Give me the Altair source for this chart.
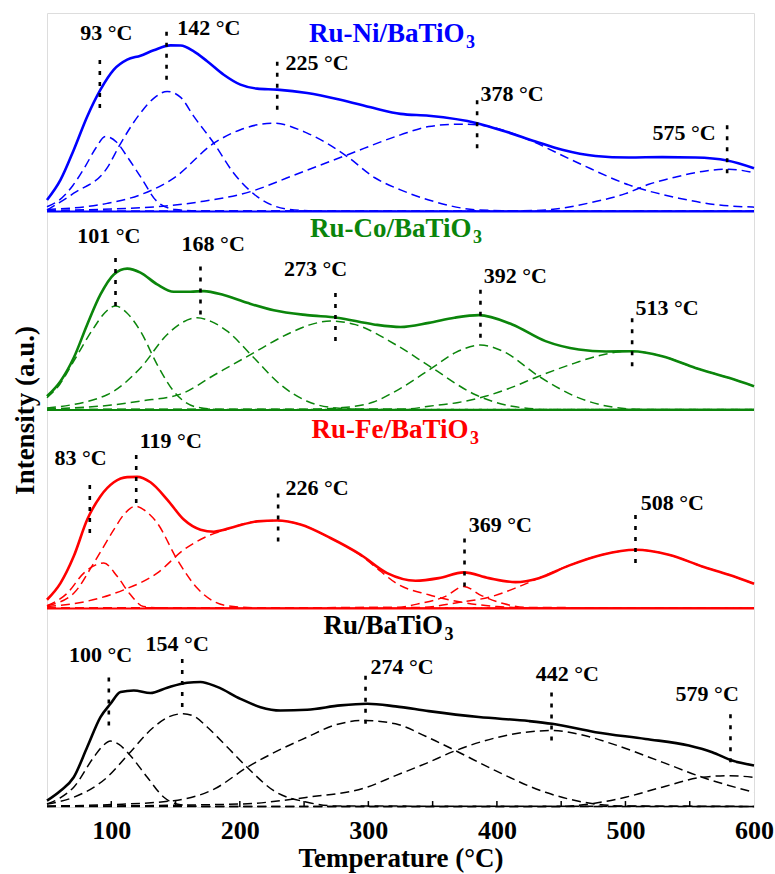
import altair as alt
import pandas as pd

FONT = "Liberation Serif"
PANELS = ["Ru-Ni", "Ru-Co", "Ru-Fe", "Ru"]
COLORS = ["#0000ff", "#0b850b", "#ff0000", "#000000"]
OFFSETS = {"Ru-Ni": 300, "Ru-Co": 200, "Ru-Fe": 100, "Ru": 0}

# ---------------- Ru-Ni/BaTiO3 (temperature °C, intensity a.u.) ----------------
NI_SOLID = [(50, 5.8), (60.5, 15.9), (70.8, 31), (81.3, 47.9), (91.6, 61.4), (102, 71.5),
            (112.4, 76.5), (122.7, 78.5), (133, 81.2), (146, 83.7), (153.9, 83.6), (164.2, 80.7),
            (174.6, 75.7), (187.5, 68.9), (200.5, 63.9), (213.5, 61.9), (229, 61.4), (252.4, 59.7),
            (278.3, 56.3), (304.2, 52.1), (325, 49.2), (347, 48.2), (384.6, 44.5), (406.7, 40.3),
            (430, 35.3), (450.8, 31.1), (476.7, 28), (502.6, 27.2), (528.6, 27.4), (554.5, 27.2),
            (579.1, 25.7), (600, 21.8)]
NI_C1 = [(50, 2.4), (60, 6), (70, 13), (80, 23), (88, 32), (95.5, 37.8), (104, 35), (113, 27),
         (122.7, 17.6), (135.7, 5), (150, 1), (170, 0.3), (600, 0.3)]
NI_C2 = [(50, 0.7), (70.8, 9.2), (96.8, 22), (107, 34), (122.7, 49.6), (133, 57), (143.5, 60.5),
         (154, 57.5), (164.2, 47.9), (179.8, 34.4), (195.3, 19.3), (213.5, 7.5), (239, 1),
         (260, 0.3), (600, 0.3)]
NI_C3 = [(50, 1), (96.8, 4.1), (125, 9), (148.6, 16.8), (179.8, 34.4), (200.5, 41.2),
         (226.4, 44.5), (252.4, 39.5), (283.5, 27.7), (305, 17), (325, 10.9), (347, 5.8),
         (385.7, 0.8), (420, 0.3), (600, 0.3)]
NI_C4 = [(50, 0.5), (135.7, 2.4), (170, 5), (208.3, 10), (239.4, 17.6), (283.5, 28.5),
         (325, 38.6), (347, 42.8), (370, 44), (384.6, 43.7), (405, 41), (424.8, 36.1),
         (463.7, 24.3), (502.6, 13.4), (541.5, 6.7), (570, 3.5), (600, 2.2)]
NI_C5 = [(50, 0.3), (400, 0.3), (430, 0.5), (476.7, 5), (500, 9), (518.2, 13.7), (540, 17.5),
         (560, 20.2), (580.4, 21.3), (600, 19.5)]

# ---------------- Ru-Co/BaTiO3 ----------------
CO_SOLID = [(50, 6.9), (60.5, 14.5), (70.8, 26.3), (81.3, 43.1), (91.6, 58.2), (102, 68.3),
            (112.4, 71.2), (122.7, 69.2), (135.7, 63.3), (148.6, 59.6), (161.6, 59.6), (172, 59.9),
            (187.5, 57.9), (205.7, 54), (226.4, 50.2), (252.4, 47.8), (275.7, 46.5), (304.2, 43.1),
            (325, 41.8), (347, 43.9), (367, 46.5), (385.9, 47.8), (411.9, 43.1), (437.8, 34.7),
            (463.7, 30.5), (485, 29.5), (505.2, 29.6), (528.6, 27.1), (554.5, 21.2), (580.4, 16.2),
            (600, 12)]
CO_C1 = [(50, 6.2), (60, 13), (70.8, 24.6), (86.4, 41.4), (95, 49), (103.3, 52.4), (112, 49),
         (122.7, 39.7), (135.7, 22.9), (148.6, 9.4), (166.8, 1.4), (185, 0.3), (600, 0.3)]
CO_C2 = [(50, 1), (96.8, 7.7), (122.7, 21.2), (143.5, 38), (155, 44), (166.8, 46.5), (178, 44.5),
         (190.2, 39.7), (210.9, 26.3), (231.6, 12.8), (252.4, 4.4), (275, 1), (300, 0.3), (600, 0.3)]
CO_C3 = [(50, 0.5), (100, 2.5), (122.7, 4.5), (153.9, 8), (179.8, 17.5), (208.3, 27.9),
         (239.4, 38.9), (255, 43), (270.5, 44.8), (290, 43), (321, 33), (349.6, 21.2),
         (383.3, 7.7), (411.9, 1.9), (440, 0.3), (600, 0.3)]
CO_C4 = [(50, 0.3), (250, 0.3), (280, 1.2), (304, 4), (321, 9.4), (349.6, 21.2), (368, 29),
         (387.2, 32.7), (405, 29.5), (432.6, 17), (463.7, 6.1), (490, 1.5), (515, 0.3), (600, 0.3)]
CO_C5 = [(50, 0.3), (330, 0.5), (347, 1.9), (370, 3.8), (391.1, 6.9), (410, 11), (432.6, 17),
         (460, 23.5), (480, 27.5), (502.6, 29.6), (528.6, 27.1), (554.5, 21.2), (580.4, 16.2),
         (600, 12)]

# ---------------- Ru-Fe/BaTiO3 ----------------
FE_SOLID = [(50, 4.4), (60.5, 12.8), (70.8, 26.3), (81.3, 44.8), (91.6, 56.6), (102, 63.6),
            (112.4, 66.2), (120.2, 66.3), (130.5, 63.6), (143.5, 54.9), (156.4, 44.8), (169.4, 39.7),
            (179.8, 38.7), (195.3, 41.1), (213.5, 43.9), (229.1, 44.3), (247.2, 42.3), (270.5, 35.5),
            (293.9, 27.1), (314.6, 17.8), (336.7, 14), (354.8, 15.3), (374.2, 18.2), (393.7, 15.3),
            (414.5, 13.3), (432.6, 15.3), (455.9, 21.6), (481.9, 27.1), (507.8, 29.6), (533.7, 27.1),
            (559.7, 21.2), (580.4, 17), (600, 12.5)]
FE_C1 = [(50, 1.4), (65.7, 7.7), (78.6, 17.8), (88, 22), (94.2, 22.9), (104.6, 16.2), (115, 6.9),
         (125, 1), (140, 0.3), (600, 0.3)]
FE_C2 = [(50, 1.4), (70.8, 7.7), (86.4, 22.9), (102, 39.7), (110, 47.5), (118.8, 51.5), (127, 49),
         (135.7, 43.1), (151.3, 24.6), (166.8, 10.3), (180, 3.5), (195, 1), (220, 0.3), (600, 0.3)]
FE_C3 = [(50, 1), (80, 3.5), (109.7, 9.4), (135.7, 17.8), (156.4, 29.6), (174.6, 36.4),
         (190.2, 39.9), (195.3, 41.1), (213.5, 43.9), (229.1, 44.3), (247.2, 42.3), (270.5, 35.5),
         (293.9, 26.8), (310, 18.5), (321, 13), (347, 6.9), (374, 3), (400, 1), (430, 0.3), (600, 0.3)]
FE_C4 = [(50, 0.3), (320, 0.5), (340, 2.5), (360, 6.1), (374.2, 11.1), (388, 6.5), (405, 2.5),
         (425, 0.5), (600, 0.3)]
FE_C5 = [(50, 0.3), (340, 0.5), (370, 3), (396.3, 6.1), (414.5, 10.3), (432.6, 15.3), (455.9, 21.6),
         (481.9, 27.1), (507.8, 29.6), (533.7, 27.1), (559.7, 21.2), (580.4, 17), (600, 12.5)]

# ---------------- Ru/BaTiO3 ----------------
RU_SOLID = [(50, 3.2), (60.5, 8.2), (70.8, 15), (81.3, 30.2), (91.6, 45.3), (99.4, 52), (107.2, 57.9),
            (117.5, 58.7), (130.5, 57.4), (143.5, 60.1), (159, 62.6), (169.4, 63), (182.4, 60.5),
            (200.5, 54.5), (216.1, 50.3), (231.6, 48.6), (252.4, 49), (278.3, 51.2), (299.1, 52),
            (321.1, 50.7), (347, 48.3), (385.9, 45.3), (424.8, 43.3), (443, 41.9), (476.7, 37.7),
            (515.6, 34.3), (549.3, 31), (567.5, 27.6), (583, 23.4), (600, 20.9)]
RU_C1 = [(50, 1.5), (60, 4.5), (70.8, 10), (86.4, 25.1), (93, 30.5), (99.4, 33.2), (106, 31.5),
         (113.6, 26.8), (128, 15), (140.9, 4.9), (155, 1), (170, 0.3), (600, 0.3)]
RU_C2 = [(50, 1.5), (70.8, 4.9), (96.8, 15), (113.6, 26.8), (133.1, 40.3), (145, 45.5), (155.9, 47),
         (165, 45.5), (174.6, 40.3), (190.2, 30.2), (205.7, 20), (226.4, 8.2), (252.4, 2.4),
         (275, 0.5), (600, 0.3)]
RU_C3 = [(50, 0.5), (100, 1.2), (148.6, 3.2), (180, 9), (205.7, 20), (230, 28.5), (252.4, 35.2),
         (273.1, 41.1), (296.5, 43.6), (321.1, 41.9), (345, 35.5), (367.8, 28.4), (398.9, 18.3),
         (437.8, 7.4), (476.7, 1.5), (500, 0.5), (600, 0.3)]
RU_C4 = [(50, 0.3), (200, 1.5), (252.4, 4.9), (299, 10), (321.1, 15.8), (345, 22), (367.8, 28.4),
         (400, 35), (420, 37.5), (443, 38.5), (465, 36.5), (489.7, 31.8), (528.6, 22.6),
         (559.7, 15), (600, 7.4)]
RU_C5 = [(50, 0.3), (450, 0.3), (475, 1.8), (500, 4.9), (528.6, 10), (559.7, 15), (580.4, 15.8),
         (600, 14.9)]

# ---------------- peak markers: (panel, T, bottom, top) ----------------
MARKERS = [
    ("Ru-Ni", 91.1, 52.1, 78.2), ("Ru-Ni", 143, 66.4, 93.3), ("Ru-Ni", 229.1, 51.3, 77.4),
    ("Ru-Ni", 384.6, 31.9, 58.8), ("Ru-Ni", 579.1, 19.3, 44.5),
    ("Ru-Co", 103.3, 52.4, 78.4), ("Ru-Co", 169.4, 48.1, 74.2), ("Ru-Co", 274.4, 34.7, 61.6),
    ("Ru-Co", 387.2, 36.4, 63.3), ("Ru-Co", 505.2, 22.1, 48.1),
    ("Ru-Fe", 83.3, 38, 64.1), ("Ru-Fe", 119.4, 53.2, 80.2), ("Ru-Fe", 229.8, 33.8, 60.8),
    ("Ru-Fe", 374.8, 11.1, 37.2), ("Ru-Fe", 507.8, 22.9, 49),
    ("Ru", 98.1, 41.1, 67.2), ("Ru", 155.2, 50.4, 76.4), ("Ru", 297.8, 41.9, 67.2),
    ("Ru", 442.5, 33.5, 58.7), ("Ru", 581.7, 22.6, 48.6),
]
# ---------------- peak labels: (panel, text, T, I, align) ----------------
LABELS = [
    ("Ru-Ni", "93 °C", 96.1, 90, "center"), ("Ru-Ni", "142 °C", 151.3, 92.5, "left"),
    ("Ru-Ni", "225 °C", 235.5, 74.8, "left"), ("Ru-Ni", "378 °C", 387.2, 59.3, "left"),
    ("Ru-Ni", "575 °C", 570.1, 39.5, "right"),
    ("Ru-Co", "101 °C", 98.1, 87.7, "center"), ("Ru-Co", "168 °C", 179.3, 83.5, "center"),
    ("Ru-Co", "273 °C", 258.9, 70.9, "center"), ("Ru-Co", "392 °C", 389.8, 67.5, "left"),
    ("Ru-Co", "513 °C", 507.8, 51.5, "left"),
    ("Ru-Fe", "83 °C", 76.1, 75.9, "center"), ("Ru-Fe", "119 °C", 122.2, 84.3, "left"),
    ("Ru-Fe", "226 °C", 235.5, 60.8, "left"), ("Ru-Fe", "369 °C", 378.1, 42.3, "left"),
    ("Ru-Fe", "508 °C", 511.9, 53.2, "left"),
    ("Ru", "100 °C", 91.6, 76.4, "center"), ("Ru", "154 °C", 151.3, 82.3, "center"),
    ("Ru", "274 °C", 301.6, 70.6, "left"), ("Ru", "442 °C", 454.7, 67.2, "center"),
    ("Ru", "579 °C", 563.6, 57.1, "center"),
]
# ---------------- panel titles: (panel, text, T_end, baseline I, subscript I) ----------------
TITLES = [
    ("Ru-Ni", "Ru-Ni/BaTiO", 374.8, 85.5, 82.5),
    ("Ru-Co", "Ru-Co/BaTiO", 380.2, 87.0, 84.0),
    ("Ru-Fe", "Ru-Fe/BaTiO", 377.9, 85.8, 82.8),
    ("Ru", "Ru/BaTiO", 358.1, 87.2, 84.2),
]
X_TICKS = [100, 150, 200, 250, 300, 350, 400, 450, 500, 550]
X_LABELS = [100, 200, 300, 400, 500, 600]

CURVES = [
    ("Ru-Ni", "solid", NI_SOLID), ("Ru-Ni", "c1", NI_C1), ("Ru-Ni", "c2", NI_C2),
    ("Ru-Ni", "c3", NI_C3), ("Ru-Ni", "c4", NI_C4), ("Ru-Ni", "c5", NI_C5),
    ("Ru-Co", "solid", CO_SOLID), ("Ru-Co", "c1", CO_C1), ("Ru-Co", "c2", CO_C2),
    ("Ru-Co", "c3", CO_C3), ("Ru-Co", "c4", CO_C4), ("Ru-Co", "c5", CO_C5),
    ("Ru-Fe", "solid", FE_SOLID), ("Ru-Fe", "c1", FE_C1), ("Ru-Fe", "c2", FE_C2),
    ("Ru-Fe", "c3", FE_C3), ("Ru-Fe", "c4", FE_C4), ("Ru-Fe", "c5", FE_C5),
    ("Ru", "solid", RU_SOLID), ("Ru", "c1", RU_C1), ("Ru", "c2", RU_C2),
    ("Ru", "c3", RU_C3), ("Ru", "c4", RU_C4), ("Ru", "c5", RU_C5),
]

rows = []
for panel, name, pts in CURVES:
    for t, v in pts:
        rows.append({"panel": panel, "curve": panel + "-" + name,
                     "kind": "solid" if name == "solid" else "dash",
                     "T": t, "I": v + OFFSETS[panel]})
curves_df = pd.DataFrame(rows)

markers_df = pd.DataFrame([{"panel": p, "T": t, "I": a + OFFSETS[p], "I2": b + OFFSETS[p]}
                           for p, t, a, b in MARKERS])
labels_df = pd.DataFrame([{"panel": p, "text": s, "T": t, "I": v + OFFSETS[p], "align": al}
                          for p, s, t, v, al in LABELS])
titles_df = pd.DataFrame([{"panel": p, "text": s, "T": t, "I": v + OFFSETS[p],
                           "Isub": w + OFFSETS[p], "sub": "3"} for p, s, t, v, w in TITLES])
ticks_df = pd.DataFrame({"T": X_TICKS, "I": [0] * len(X_TICKS), "I2": [3] * len(X_TICKS)})
bounds_df = pd.DataFrame({"panel": ["Ru-Fe", "Ru-Co", "Ru-Ni"], "I": [100, 200, 300]})

color = alt.Color("panel:N", scale=alt.Scale(domain=PANELS, range=COLORS), legend=None)
x_enc = alt.X("T:Q", scale=alt.Scale(domain=[50, 600], nice=False, zero=False),
              axis=alt.Axis(values=X_LABELS, title="Temperature (°C)", format="d",
                            labelFontSize=26, labelFontWeight="bold", labelFont=FONT,
                            labelFlush=False, labelColor="black", labelPadding=10,
                            ticks=False, domain=False, grid=False,
                            titleFont=FONT, titleFontSize=27, titleFontWeight="bold",
                            titleColor="black", titlePadding=2))
y_enc = alt.Y("I:Q", scale=alt.Scale(domain=[0, 400], nice=False, zero=False),
              axis=alt.Axis(title="Intensity (a.u.)", labels=False, ticks=False, domain=False,
                            grid=False, titleFont=FONT, titleFontSize=27, titleFontWeight="bold",
                            titleColor="black", titlePadding=8))

solid = alt.Chart(curves_df).transform_filter(alt.datum.kind == "solid").mark_line(
    strokeWidth=2.6, interpolate="monotone").encode(x=x_enc, y=y_enc, color=color, detail="curve:N")
dashed = alt.Chart(curves_df).transform_filter(alt.datum.kind == "dash").mark_line(
    strokeWidth=1.5, strokeDash=[9, 5], interpolate="monotone").encode(
    x=x_enc, y=y_enc, color=color, detail="curve:N")
bounds = alt.Chart(bounds_df).mark_rule(strokeWidth=2.2).encode(y=y_enc, color=color)
ticks = alt.Chart(ticks_df).mark_rule(strokeWidth=1.5, color="black").encode(
    x=x_enc, y=y_enc, y2="I2:Q")
markers = alt.Chart(markers_df).mark_rule(strokeWidth=2.6, strokeDash=[4, 7], color="black").encode(
    x=x_enc, y=y_enc, y2="I2:Q")

text_layers = []
for al in ["left", "center", "right"]:
    text_layers.append(
        alt.Chart(labels_df).transform_filter(alt.datum.align == al).mark_text(
            align=al, baseline="middle", font=FONT, fontSize=22, fontWeight="bold", color="black"
        ).encode(x=x_enc, y=y_enc, text="text:N"))

title_main = alt.Chart(titles_df).mark_text(
    align="right", baseline="alphabetic", font=FONT, fontSize=27, fontWeight="bold").encode(
    x=x_enc, y=y_enc, text="text:N", color=color)
title_sub = alt.Chart(titles_df).mark_text(
    align="left", baseline="alphabetic", font=FONT, fontSize=18, fontWeight="bold", dx=1.5).encode(
    x=x_enc, y=alt.Y("Isub:Q", scale=alt.Scale(domain=[0, 400], nice=False, zero=False)),
    text="sub:N", color=color)

chart = alt.layer(dashed, solid, bounds, ticks, markers, *text_layers, title_main, title_sub).properties(
    width=707, height=794,
    autosize=alt.AutoSizeParams(type="none"),
    padding={"left": 47, "top": 13, "right": 21, "bottom": 67},
).configure_view(stroke="#222222", strokeWidth=2).configure(background="white")

chart.save("out.html", embed_options={"renderer": "svg", "actions": False})
